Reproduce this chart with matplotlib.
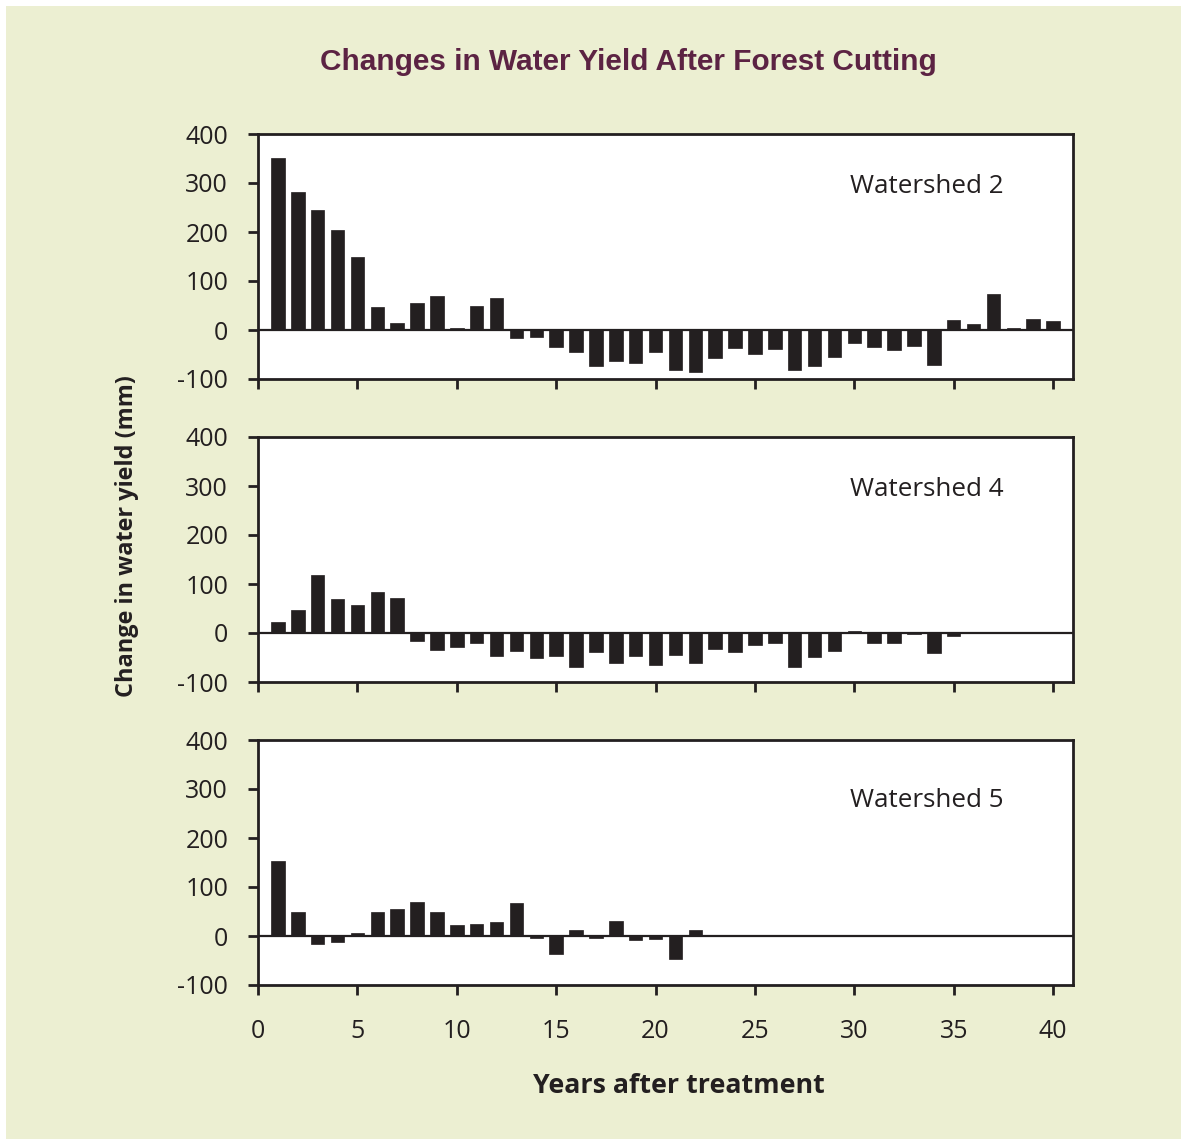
import matplotlib
matplotlib.use("Agg")
import matplotlib.pyplot as plt
from matplotlib.patches import Rectangle
import numpy as np

plt.rcParams["axes.unicode_minus"] = False

# change in water yield (mm) by year after treatment
ws2 = [351, 281, 244, 204, 149, 46, 14, 55, 70, 5,
       49, 66, -17, -14, -35, -44, -73, -64, -68, -45,
       -81, -85, -57, -36, -49, -38, -81, -73, -55, -27,
       -35, -41, -32, -72, 21, 13, 73, 5, 23, 19]
ws4 = [23, 47, 118, 69, 58, 84, 71, -17, -34, -29,
       -20, -47, -36, -50, -47, -70, -38, -62, -46, -66,
       -45, -62, -32, -39, -25, -20, -69, -48, -37, 5,
       -21, -20, -3, -41, -7]
ws5 = [153, 50, -17, -12, 7, 50, 55, 69, 50, 22,
       25, 29, 67, -5, -37, 13, -4, 31, -8, -7,
       -46, 12]
names = ["Watershed 2", "Watershed 4", "Watershed 5"]
series = [ws2, ws4, ws5]

yticks = [-100, 0, 100, 200, 300, 400]
xticks = [0, 5, 10, 15, 20, 25, 30, 35, 40]

W, H = 1187, 1145
fig = plt.figure(figsize=(W / 100, H / 100), dpi=100, facecolor="white")
# beige panel inside a thin white border
fig.patches.append(Rectangle((6 / W, 6 / H), 1 - 12 / W, 1 - 12 / H,
                             transform=fig.transFigure, facecolor="#ECEFD2",
                             edgecolor="none", zorder=-5))

tick_font = "Open Sans"
ink = "#231F20"

left, right = 258 / W, 1073 / W
tops = [134, 437, 740]
ph = 245
label_y = [0.784, 0.784, 0.755]

for i, (vals, name) in enumerate(zip(series, names)):
    ax = fig.add_axes([left, 1 - (tops[i] + ph) / H, right - left, ph / H])
    ax.set_facecolor("white")
    years = np.arange(1, len(vals) + 1)
    ax.bar(years, vals, width=0.68, color=ink, edgecolor=ink, linewidth=0.5, zorder=3)
    ax.axhline(0, color=ink, linewidth=1.6, zorder=4)
    ax.set_xlim(0, 41)
    ax.set_ylim(-100, 400)
    ax.set_yticks(yticks)
    ax.set_xticks(xticks)
    for s in ax.spines.values():
        s.set_linewidth(2.0)
        s.set_color(ink)
    ax.tick_params(direction="out", length=7.5, width=2.0, color=ink,
                   labelsize=18, labelcolor=ink)
    ax.tick_params(axis="y", pad=14)
    for lab in ax.get_yticklabels():
        lab.set_fontfamily(tick_font)
    if i < 2:
        ax.set_xticklabels([])
    else:
        for lab in ax.get_xticklabels():
            lab.set_fontfamily(tick_font)
        ax.tick_params(axis="x", pad=17)
    ax.text(0.726, label_y[i], name, transform=ax.transAxes, fontsize=18.7,
            family=tick_font, color=ink, va="center", ha="left")

fig.text(628 / W, 1 - 62 / H, "Changes in Water Yield After Forest Cutting",
         ha="center", va="center", fontsize=21.4, fontweight="bold",
         family="Liberation Sans", color="#5C2343")
fig.text(127 / W, 1 - 536 / H, "Change in water yield (mm)", rotation=90,
         ha="center", va="center", fontsize=16.9, fontweight="bold",
         family=tick_font, color=ink)
fig.text(679 / W, 1 - 1086 / H, "Years after treatment",
         ha="center", va="center", fontsize=19.3, fontweight="bold",
         family=tick_font, color=ink)

fig.savefig("out.png", dpi=100, facecolor=fig.get_facecolor())
